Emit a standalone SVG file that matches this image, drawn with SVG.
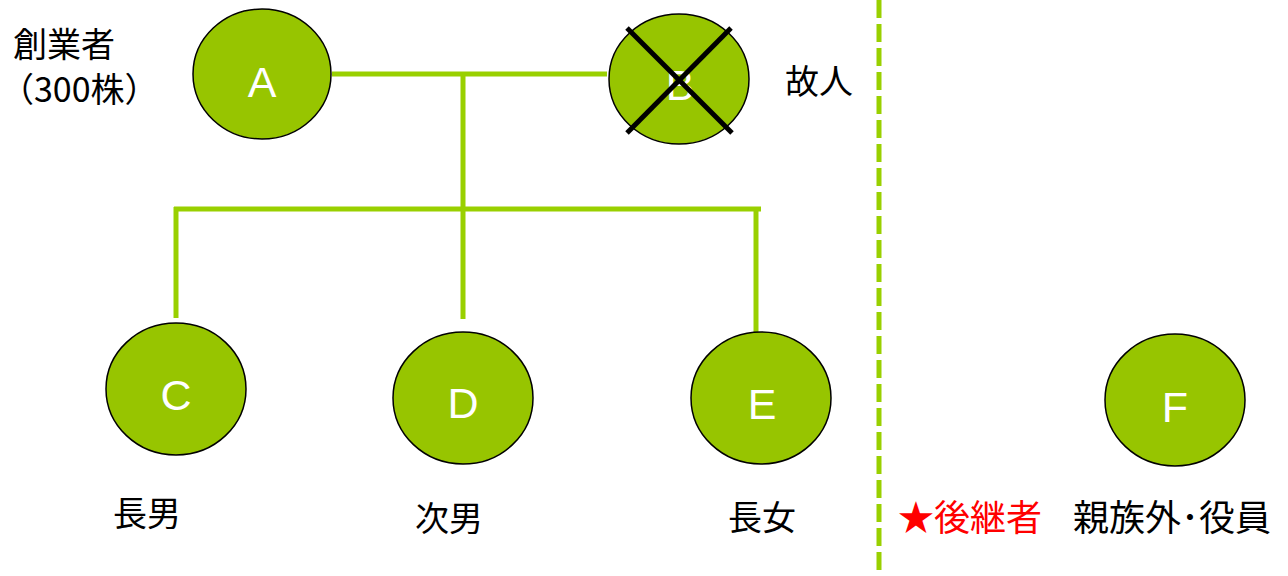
<svg xmlns="http://www.w3.org/2000/svg" width="1288" height="576" viewBox="0 0 1288 576">
<style>
.node{fill:#97C500;stroke:#000;stroke-width:1.5}
.let{fill:#fff;font-family:"Liberation Sans",Arial,sans-serif;font-size:43px;text-anchor:middle}
.lbl{fill:#000;font-family:"Noto Sans CJK JP",sans-serif;font-size:34px}
.big{font-size:36px}
.conn{stroke:#99D000;stroke-width:5;fill:none}
.cross{stroke:#000;stroke-width:5}
</style>
<rect width="1288" height="576" fill="#fff"/>
<g id="connectors">
<line class="conn" x1="332" y1="74" x2="607" y2="74"/>
<line class="conn" x1="463" y1="72" x2="463" y2="319"/>
<line class="conn" x1="174" y1="209" x2="761" y2="209"/>
<line class="conn" x1="176" y1="207" x2="176" y2="318"/>
<line class="conn" x1="756" y1="207" x2="756" y2="332"/>
<line class="conn" x1="879" y1="0" x2="879" y2="576" stroke-width="6" stroke-dasharray="18 6"/>
</g>
<g id="A">
<ellipse class="node" cx="262" cy="74" rx="69" ry="65"/>
<text class="let" x="262" y="97">A</text>
</g>
<g id="B">
<ellipse class="node" cx="679" cy="79" rx="70" ry="65"/>
<text class="let" x="680" y="100">B</text>
<line class="cross" x1="627" y1="28" x2="732" y2="133"/>
<line class="cross" x1="731" y1="28" x2="627" y2="133"/>
</g>
<g id="C">
<ellipse class="node" cx="176" cy="389" rx="70" ry="66"/>
<text class="let" x="176" y="410">C</text>
</g>
<g id="D">
<ellipse class="node" cx="463" cy="398" rx="70" ry="66"/>
<text class="let" x="463" y="418">D</text>
</g>
<g id="E">
<ellipse class="node" cx="761" cy="398" rx="70" ry="66"/>
<text class="let" x="762" y="419">E</text>
</g>
<g id="F">
<ellipse class="node" cx="1175" cy="400" rx="70" ry="66"/>
<text class="let" x="1175" y="422">F</text>
</g>
<g id="labels">
<text class="lbl" x="13" y="57">創業者</text>
<text class="lbl" x="0" y="102">（300株）</text>
<text class="lbl" x="785" y="94">故人</text>
<text class="lbl" x="113" y="526">長男</text>
<text class="lbl" x="415" y="531">次男</text>
<text class="lbl" x="728" y="530">長女</text>
<text class="lbl big" x="898" y="531" style="fill:#FF0000">★後継者</text>
<text class="lbl big" x="1073" y="531">親族外･役員</text>
</g>
</svg>
